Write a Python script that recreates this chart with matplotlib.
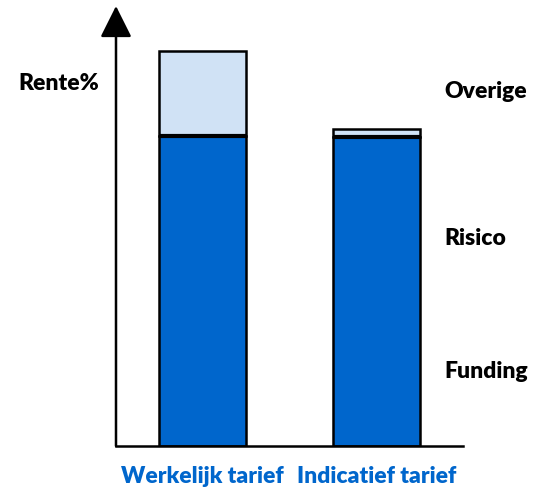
import matplotlib
matplotlib.use("Agg")
import matplotlib.pyplot as plt

tarieven = ["Werkelijk tarief", "Indicatief tarief"]
funding_risico = [310, 309]
overige = [85, 8]
lagen = ["Overige", "Risico", "Funding"]

donkerblauw = "#0066CC"
lichtblauw = "#D0E2F5"

plt.rcParams['font.family'] = ['Lato', 'DejaVu Sans']

fig = plt.figure(figsize=(5.5, 4.89), dpi=100)
W, H = 550, 489
ax = fig.add_axes([116 / W, (H - 447) / H, (463 - 116) / W, (447 - 7) / H])
ax.set_xlim(-0.5, 1.5)
ax.set_ylim(0, 440)

x = [0, 1]
ax.bar(x, funding_risico, width=0.5, color=donkerblauw, edgecolor="black", linewidth=1.8)
ax.bar(x, overige, width=0.5, bottom=funding_risico, color=lichtblauw,
       edgecolor="black", linewidth=1.8)
# dikke scheidingslijn tussen de lagen
for xi, h in zip(x, funding_risico):
    ax.plot([xi - 0.25, xi + 0.25], [h, h], color="black", lw=3, solid_capstyle="butt")

# assen
for s in ax.spines.values():
    s.set_visible(False)
ax.plot([-0.5, 1.5], [0, 0], color="black", lw=1.8, clip_on=False)
ax.annotate("", xy=(-0.5, 440), xytext=(-0.5, 0),
            arrowprops=dict(arrowstyle="-|>,head_length=1.3,head_width=0.65",
                            color="black", lw=1.8, mutation_scale=15,
                            shrinkA=0, shrinkB=0),
            annotation_clip=False)

ax.set_xticks(x)
ax.set_xticklabels(tarieven, color=donkerblauw, fontsize=16.5, fontweight="heavy")
ax.tick_params(axis="x", length=0, pad=14)
ax.set_yticks([])

fig.text(18 / W, 1 - 84 / H, "Rente%", fontsize=16.5, fontweight="heavy", va="center")
for lab, py in zip(lagen, [92, 239, 372]):
    fig.text(444 / W, 1 - py / H, lab, fontsize=16.5, fontweight="heavy", va="center")

fig.savefig("out.png", dpi=100)
